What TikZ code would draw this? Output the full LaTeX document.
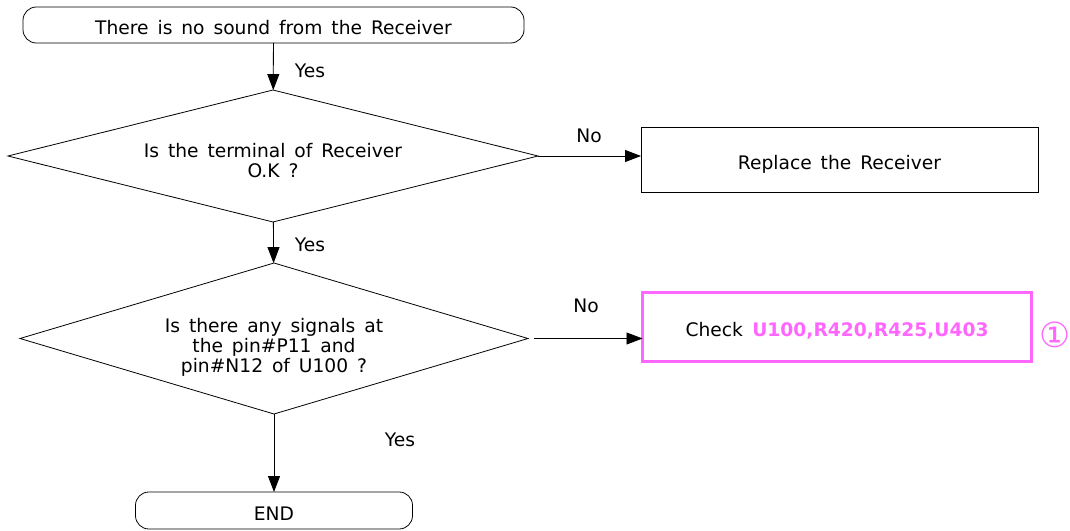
\documentclass[tikz,border=0pt]{standalone}
\usepackage{fontspec}
\setmainfont{DejaVu Sans}[WordSpace=1.5]
\usepackage{xcolor}
\usetikzlibrary{shapes.geometric,arrows.meta,positioning}
\definecolor{chkpink}{RGB}{255,102,255}
\tikzset{
  every node/.style={font=\fontsize{14}{15}\selectfont, outer sep=0pt},
  terminal/.style={draw, rounded corners=10pt, inner sep=0pt, text height=14.5pt, text depth=0pt},
  decision/.style={draw, diamond, inner sep=0pt, align=center},
  action/.style={draw, inner sep=0pt, text height=14.5pt, text depth=0pt},
  flow/.style={-{Triangle[length=12pt,width=9pt]}, line width=0.6pt},
}
\begin{document}
\begin{tikzpicture}[x=0.75pt, y=-0.75pt, line width=0.6pt]
\useasboundingbox (0,0) rectangle (1070,531);
% boxes
\node[terminal, minimum width=375.75pt, minimum height=27pt] (start) at (273.5,25) {There is no sound from the Receiver};
\node[decision, aspect=4, minimum width=397.5pt, minimum height=99pt] (term) at (273,156) {\rule{0pt}{17.5pt}Is the terminal of Receiver\\O.K ?};
\node[action, minimum width=297.75pt, minimum height=48.75pt] (replace) at (839.5,159.5) {Replace the Receiver};
\node[decision, aspect=3.36, minimum width=381pt, minimum height=113.25pt] (signal) at (274,338.5) {\rule{0pt}{24pt}Is there any signals at\\the pin\#P11 and\\pin\#N12 of U100 ?};
\node[action, draw=chkpink, line width=2.25pt, minimum width=291.75pt, minimum height=51.75pt] (check) at (837,327)
  {Check\hspace{0.5em}\textcolor{chkpink}{\bfseries U100,R420,R425,U403}};
\node[text=chkpink, font=\fontsize{26}{26}\selectfont] (note) at (1055,335) {①};
\node[terminal, minimum width=207.75pt, minimum height=27.75pt] (end) at (274,510.5) {END};
% labels
\node (yes1) at (310,71) {Yes};
\node (yes2) at (310,245) {Yes};
\node (yes3) at (400,440) {Yes};
\node (no1) at (589,136) {No};
\node (no2) at (586,306) {No};
% connectors
\draw[flow] (start) -- (term);
\draw[flow] (term.east) -- (term.east -| replace.west);
\draw[flow] (term) -- (signal);
\draw[flow] ([xshift=4.5pt]signal.east) -- (signal.east -| check.west);
\draw[flow] (signal) -- (end);
\end{tikzpicture}
\end{document}
